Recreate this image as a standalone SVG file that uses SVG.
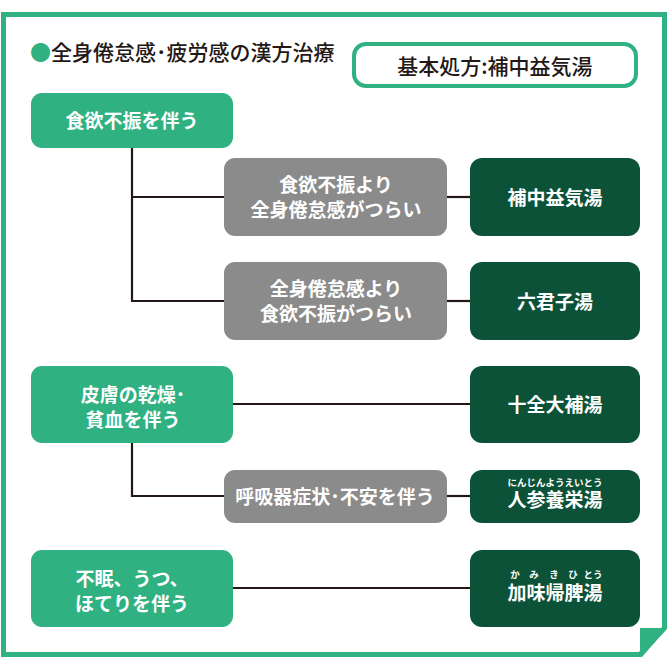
<svg xmlns="http://www.w3.org/2000/svg" width="670" height="670" viewBox="0 0 670 670">
<style>
text{font-family:"Noto Sans CJK JP","Noto Sans CJK SC",sans-serif;}
.lbl{font-size:19px;font-weight:700;fill:#ffffff;text-anchor:middle;}
.g{fill:#2fb181;}
.gr{fill:#8b8b8b;}
.dk{fill:#0b5239;}
.ruby{font-size:9.5px;font-weight:700;fill:#ffffff;text-anchor:middle;}
.rb{font-family:"Liberation Sans","Noto Sans CJK JP",sans-serif;}
.conn line{stroke:#231815;stroke-width:2.2;}
</style>
<rect width="670" height="670" fill="#ffffff"/>
<g id="frame">
<polygon points="3.5,14.5 664.5,14.5 664.5,628 640,654.5 3.5,654.5" fill="#ffffff" stroke="#2fb181" stroke-width="5"/>
<polygon points="640,628 667,628 642,657 640,657" fill="#2fb181"/>
</g>
<g id="title">
<text x="30" y="60" font-size="21" font-weight="500" fill="#231815"><tspan fill="#2fb181">●</tspan>全身倦怠感･疲労感の漢方治療</text>
</g>
<g id="basic">
<rect x="354" y="44" width="282" height="42" rx="12" fill="#ffffff" stroke="#2fb181" stroke-width="4"/>
<text x="495" y="74" font-size="21" font-weight="500" fill="#231815" text-anchor="middle">基本処方:補中益気湯</text>
</g>
<g class="conn" id="connectors">
<line x1="132" y1="148" x2="132" y2="301"/>
<line x1="131" y1="197" x2="224" y2="197"/>
<line x1="131" y1="301" x2="224" y2="301"/>
<line x1="447" y1="197" x2="470" y2="197"/>
<line x1="447" y1="301" x2="470" y2="301"/>
<line x1="233" y1="404" x2="470" y2="404"/>
<line x1="132" y1="443" x2="132" y2="497"/>
<line x1="131" y1="496" x2="224" y2="496"/>
<line x1="447" y1="496" x2="470" y2="496"/>
<line x1="233" y1="588" x2="470" y2="588"/>
</g>
<g id="n-shokuyoku">
<rect class="g" x="31" y="93" width="202" height="55" rx="11"/>
<text class="lbl" x="132" y="128">食欲不振を伴う</text>
</g>
<g id="n-hifu">
<rect class="g" x="31" y="366" width="202" height="77" rx="11"/>
<text class="lbl" x="133" y="402">皮膚の乾燥･</text>
<text class="lbl" x="133" y="427">貧血を伴う</text>
</g>
<g id="n-fumin">
<rect class="g" x="31" y="550" width="202" height="77" rx="11"/>
<text class="lbl" x="132" y="586">不眠、うつ、</text>
<text class="lbl" x="132" y="611">ほてりを伴う</text>
</g>
<g id="n-gray1">
<rect class="gr" x="224" y="158" width="223" height="78" rx="11"/>
<text class="lbl" x="336" y="192">食欲不振より</text>
<text class="lbl" x="336" y="217">全身倦怠感がつらい</text>
</g>
<g id="n-gray2">
<rect class="gr" x="224" y="262" width="223" height="78" rx="11"/>
<text class="lbl" x="336" y="296">全身倦怠感より</text>
<text class="lbl" x="336" y="321">食欲不振がつらい</text>
</g>
<g id="n-gray3">
<rect class="gr" x="224" y="470" width="223" height="53" rx="11"/>
<text class="lbl" x="335" y="504">呼吸器症状･不安を伴う</text>
</g>
<g id="n-hochu">
<rect class="dk" x="470" y="158" width="170" height="78" rx="12"/>
<text class="lbl" x="555" y="205">補中益気湯</text>
</g>
<g id="n-rikkunshi">
<rect class="dk" x="470" y="262" width="170" height="78" rx="12"/>
<text class="lbl" x="555" y="309">六君子湯</text>
</g>
<g id="n-juzen">
<rect class="dk" x="470" y="366" width="170" height="77" rx="12"/>
<text class="lbl" x="555" y="412">十全大補湯</text>
</g>
<g id="n-ninjin">
<rect class="dk" x="470" y="470" width="170" height="53" rx="12"/>
<text class="ruby rb" x="555" y="486">にんじんようえいとう</text>
<text class="lbl rb" x="555" y="507">人参養栄湯</text>
</g>
<g id="n-kami">
<rect class="dk" x="470" y="550" width="170" height="77" rx="12"/>
<text class="ruby rb" x="515" y="578">か</text>
<text class="ruby rb" x="534" y="578">み</text>
<text class="ruby rb" x="554" y="578">き</text>
<text class="ruby rb" x="573" y="578">ひ</text>
<text class="ruby rb" x="593" y="578">とう</text>
<text class="lbl rb" x="555" y="600">加味帰脾湯</text>
</g>
</svg>
